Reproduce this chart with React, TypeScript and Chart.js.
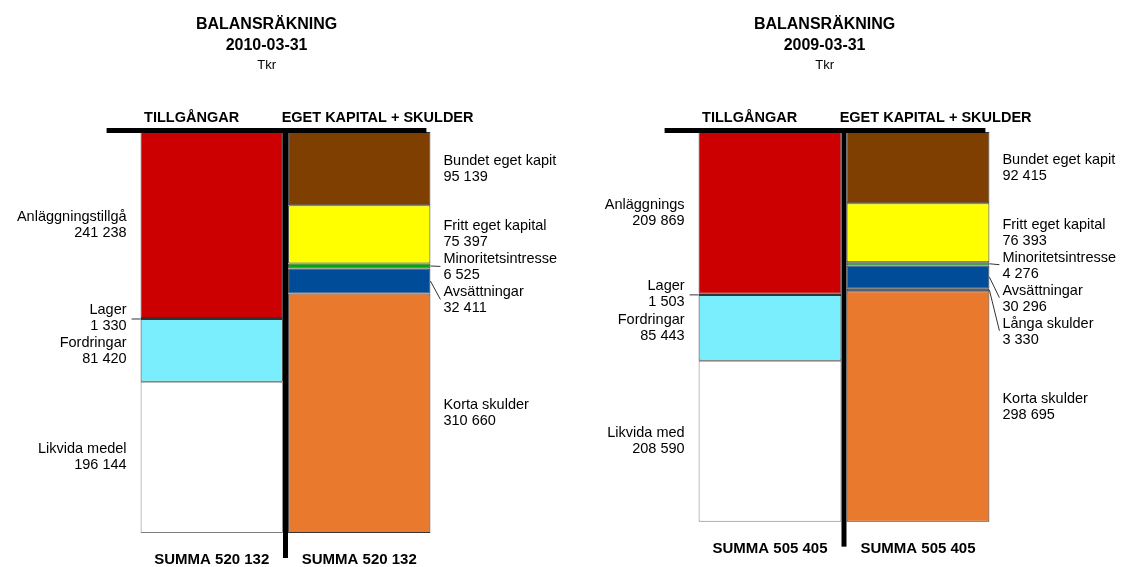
import React, { useEffect, useRef } from 'react';
import { Chart, registerables } from 'chart.js';

Chart.register(...registerables);

// ---- Data ----
const panelTitles = ['2010-03-31', '2009-03-31'];
const mainTitle = 'BALANSRÄKNING';
const unitLabel = 'Tkr';
const sideHeaders = ['TILLGÅNGAR', 'EGET KAPITAL + SKULDER'];

const assetLabels2010 = ['Anläggningstillgå', 'Lager', 'Fordringar', 'Likvida medel'];
const assetValues2010 = [241238, 1330, 81420, 196144];
const liabLabels2010 = ['Bundet eget kapit', 'Fritt eget kapital', 'Minoritetsintresse', 'Avsättningar', 'Korta skulder'];
const liabValues2010 = [95139, 75397, 6525, 32411, 310660];

const assetLabels2009 = ['Anläggnings', 'Lager', 'Fordringar', 'Likvida med'];
const assetValues2009 = [209869, 1503, 85443, 208590];
const liabLabels2009 = ['Bundet eget kapit', 'Fritt eget kapital', 'Minoritetsintresse', 'Avsättningar', 'Långa skulder', 'Korta skulder'];
const liabValues2009 = [92415, 76393, 4276, 30296, 3330, 298695];

const assetColors = ['#CC0000', '#1F4F5F', '#7AEEFD', '#FFFFFF'];
const liabColors2010 = ['#7F3F00', '#FFFF00', '#00AA00', '#004C99', '#E8792D'];
const liabColors2009 = ['#7F3F00', '#FFFF00', '#00AA00', '#004C99', '#2060A8', '#E8792D'];

const sum = (a: number[]) => a.reduce((s, v) => s + v, 0);
const SCALE_MAX = Math.max(sum(assetValues2010), sum(assetValues2009));

const FONT = "'Liberation Sans', Arial, sans-serif";
const fmt = (v: number) => String(v).replace(/\B(?=(\d{3})+(?!\d))/g, ' ');

type Panel = {
  date: string;
  assetLabels: string[];
  assetValues: number[];
  liabLabels: string[];
  liabValues: number[];
  liabColors: string[];
  padLeft: number;
  padRight: number;
  left: number;
  width: number;
};

const panels: Panel[] = [
  {
    date: panelTitles[0], assetLabels: assetLabels2010, assetValues: assetValues2010,
    liabLabels: liabLabels2010, liabValues: liabValues2010, liabColors: liabColors2010,
    padLeft: 138, padRight: 127, left: 0, width: 560,
  },
  {
    date: panelTitles[1], assetLabels: assetLabels2009, assetValues: assetValues2009,
    liabLabels: liabLabels2009, liabValues: liabValues2009, liabColors: liabColors2009,
    padLeft: 136, padRight: 129, left: 560, width: 561,
  },
];

function makePlugin(p: Panel) {
  return {
    id: 'balansDecor',
    afterDraw(chart: any) {
      const ctx = chart.ctx as CanvasRenderingContext2D;
      const nA = p.assetValues.length;
      const metas = chart.data.datasets.map((_: any, i: number) => chart.getDatasetMeta(i));
      const aEl = metas[0].data[0];
      const lEl = metas[nA].data[1];
      const aLeft = aEl.x - aEl.width / 2;
      const aRight = aEl.x + aEl.width / 2;
      const lLeft = lEl.x - lEl.width / 2;
      const lRight = lEl.x + lEl.width / 2;
      const yScale = chart.scales.y;
      const total = sum(p.assetValues);
      const bottom = yScale.getPixelForValue(total);
      const top = yScale.getPixelForValue(0);

      ctx.save();
      ctx.fillStyle = '#000';
      ctx.textAlign = 'center';
      ctx.textBaseline = 'middle';
      // Titles
      const tcx = aLeft + 126;
      ctx.font = `bold 16px ${FONT}`;
      ctx.fillText(mainTitle, tcx, 25);
      ctx.fillText(p.date, tcx, 46);
      ctx.font = `13px ${FONT}`;
      ctx.fillText(unitLabel, tcx, 65);
      ctx.font = `bold 14.5px ${FONT}`;
      ctx.fillText(sideHeaders[0], aLeft + 51, 118);
      ctx.fillText(sideHeaders[1], aLeft + 237, 118);

      // Thick black lines
      ctx.fillRect(aLeft - 34, top - 4, lRight - 4 - (aLeft - 34), 5);
      const vx = (aRight + lLeft) / 2;
      ctx.fillRect(vx - 2.5, top - 4, 5, bottom + 25 - (top - 4));

      // Summa
      ctx.font = `bold 15px ${FONT}`;
      ctx.fillText('SUMMA ' + fmt(total), aEl.x, bottom + 27);
      ctx.fillText('SUMMA ' + fmt(sum(p.liabValues)), lEl.x, bottom + 27);

      // Segment labels
      const drawSide = (labels: string[], values: number[], offset: number, idx: number, isLeft: boolean) => {
        let prev = -Infinity;
        const edge = isLeft ? aLeft : lRight;
        const tx = isLeft ? aLeft - 14 : lRight + 13;
        ctx.font = `14.5px ${FONT}`;
        ctx.textAlign = isLeft ? 'right' : 'left';
        labels.forEach((name, i) => {
          const el = metas[offset + i].data[idx];
          const s0 = Math.min(el.y, el.base);
          const s1 = Math.max(el.y, el.base);
          const segC = (s0 + s1) / 2;
          const c = Math.max(segC, prev + 33);
          prev = c;
          ctx.fillStyle = '#000';
          ctx.fillText(name, tx, c - 8);
          ctx.fillText(fmt(values[i]), tx, c + 8);
          if (s1 - s0 < 30) {
            ctx.strokeStyle = '#333';
            ctx.lineWidth = 1;
            ctx.beginPath();
            if (isLeft) {
              ctx.moveTo(edge, segC + 0.5);
              ctx.lineTo(edge - 9, c + 0.5);
            } else {
              ctx.moveTo(edge, segC);
              ctx.lineTo(edge + 10, c - 1);
            }
            ctx.stroke();
          }
        });
      };
      drawSide(p.assetLabels, p.assetValues, 0, 0, true);
      drawSide(p.liabLabels, p.liabValues, nA, 1, false);
      ctx.restore();
    },
  };
}

function PanelChart({ p }: { p: Panel }) {
  const ref = useRef<HTMLCanvasElement>(null);
  useEffect(() => {
    if (!ref.current) return;
    const datasets: any[] = [];
    p.assetValues.forEach((v, i) => {
      datasets.push({
        label: p.assetLabels[i],
        data: [v, null],
        backgroundColor: assetColors[i],
        borderColor: i === 3 ? '#808080' : '#333333',
        borderWidth: 1,
        borderSkipped: false,
        barPercentage: 0.965,
        categoryPercentage: 1,
        stack: 's',
      });
    });
    p.liabValues.forEach((v, i) => {
      datasets.push({
        label: p.liabLabels[i],
        data: [null, v],
        backgroundColor: p.liabColors[i],
        borderColor: '#333333',
        borderWidth: 1,
        borderSkipped: false,
        barPercentage: 0.965,
        categoryPercentage: 1,
        stack: 's',
      });
    });
    const chart = new Chart(ref.current, {
      type: 'bar',
      data: { labels: sideHeaders, datasets },
      options: {
        responsive: false,
        animation: false,
        layout: { padding: { left: p.padLeft, right: p.padRight, top: 132, bottom: 34 } },
        plugins: { legend: { display: false }, tooltip: { enabled: false } },
        scales: {
          x: { display: false, stacked: true },
          y: { display: false, stacked: true, reverse: true, min: 0, max: SCALE_MAX },
        },
      },
      plugins: [makePlugin(p)],
    } as any);
    return () => chart.destroy();
  }, [p]);
  return (
    <canvas
      ref={ref}
      width={p.width}
      height={567}
      style={{ position: 'absolute', left: p.left, top: 0, width: p.width, height: 567 }}
    />
  );
}

export default function App() {
  return (
    <div style={{ position: 'fixed', left: 0, top: 0, width: 1121, height: 567, background: '#fff', overflow: 'hidden' }}>
      {panels.map((p) => (
        <PanelChart key={p.date} p={p} />
      ))}
    </div>
  );
}
